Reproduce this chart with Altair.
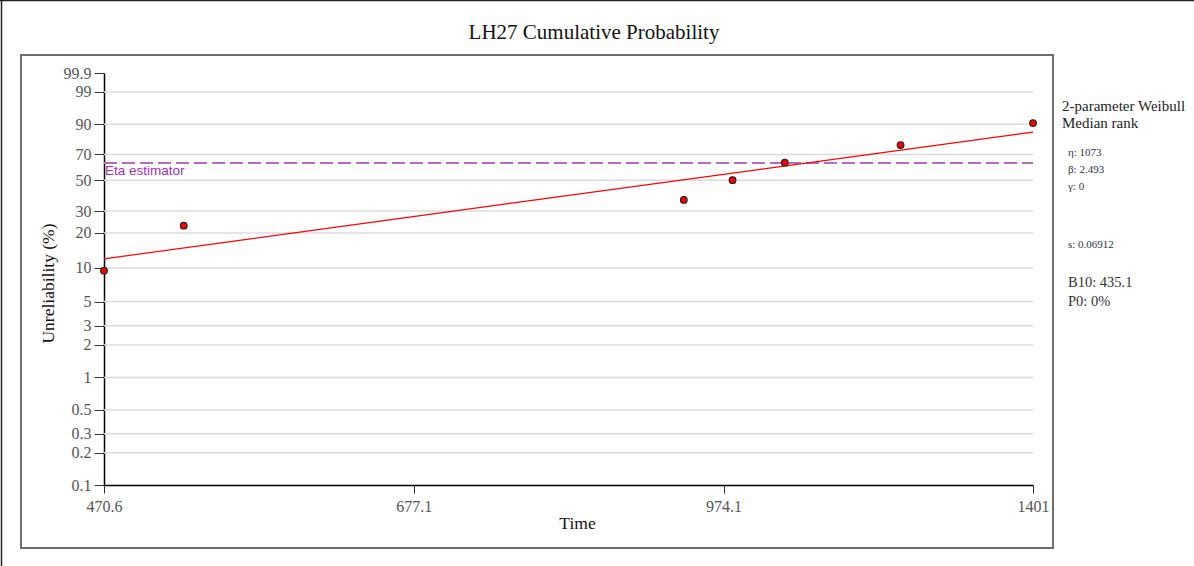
import altair as alt
import numpy as np
import pandas as pd

# ---- data ----
times = [470.6, 516.8, 929.7, 984.5, 1046.8, 1199.2, 1401.0]
unreliability = [9.46, 22.97, 36.49, 50.0, 63.51, 77.03, 90.54]
y_ticks = [0.1, 0.2, 0.3, 0.5, 1, 2, 3, 5, 10, 20, 30, 50, 70, 90, 99, 99.9]
grid_ticks = [0.2, 0.3, 0.5, 1, 2, 3, 5, 10, 20, 30, 50, 70, 90, 99]
x_ticks = [470.6, 677.1, 974.1, 1401]
eta = 1073
beta = 2.493
eta_level = 63.212
info_head = ["2-parameter Weibull", "Median rank"]
info_params = ["\u03b7: 1073", "\u03b2: 2.493", "\u03b3: 0"]
info_s = ["s: 0.06912"]
info_b = ["B10: 435.1", "P0: 0%"]

W, H = 929, 412
SERIF = "Liberation Serif"
SANS = "Liberation Sans"


def wb(p):
    return float(np.log(-np.log(1 - p / 100.0)))


W_EXPR = "log(-log(1 - datum.p/100))"
y_scale = alt.Scale(domain=[wb(y_ticks[0]), wb(y_ticks[-1])], nice=False, zero=False)
x_scale = alt.Scale(type="log", domain=[x_ticks[0], x_ticks[-1]], nice=False)

y_axis = alt.Axis(
    values=[wb(p) for p in y_ticks],
    labelExpr="format(100*(1-exp(-exp(datum.value))), '.3~g')",
    grid=False, domainColor="#000", domainWidth=1.5, tickColor="#333",
    tickSize=10, labelPadding=3, labelFont=SERIF, labelFontSize=16,
    labelColor="#555", labelOverlap=False, labelBound=False,
    title="Unreliability (%)", titleFont=SERIF, titleFontSize=17.5,
    titleFontWeight="normal", titleColor="#111", titleAngle=270,
    titleX=-56, titleY=210, titleAlign="center", titleBaseline="middle",
)
x_axis = alt.Axis(
    values=x_ticks, format=".4~g", grid=False, domainColor="#000",
    domainWidth=1.5, tickColor="#333", tickSize=8, labelPadding=5,
    labelFont=SERIF, labelFontSize=16, labelColor="#555",
    labelOverlap=False, labelFlush=False, labelBound=False,
    title="Time", titleFont=SERIF, titleFontSize=17.5, titleFontWeight="normal",
    titleColor="#111", titleX=473, titleY=38, titleAlign="center",
    titleBaseline="middle",
)

Y = alt.Y("w:Q", scale=y_scale, axis=y_axis)
X = alt.X("t:Q", scale=x_scale, axis=x_axis)

pts_df = pd.DataFrame({"t": times, "p": unreliability})
one = alt.Data(values=[{"k": 1}])

grid = alt.Chart(pd.DataFrame({"p": grid_ticks})).transform_calculate(
    w=W_EXPR
).mark_rule(color="#dcdcdc", strokeWidth=1.5).encode(
    y=Y, x=alt.value(0), x2=alt.value(W),
)

fit = alt.Chart(pd.DataFrame({"t": [x_ticks[0], x_ticks[-1]]})).transform_calculate(
    w=f"{beta} * log(datum.t / {eta})"
).mark_line(color="#ff0000", strokeWidth=1.2).encode(x=X, y=Y)

eta_df = pd.DataFrame({"p": [eta_level], "label": ["Eta estimator"]})
eta_line = alt.Chart(eta_df).transform_calculate(w=W_EXPR).mark_rule(
    color="#b56cc0", strokeWidth=2, strokeDash=[13, 5]
).encode(y=Y, x=alt.value(0), x2=alt.value(W))
eta_text = alt.Chart(eta_df).transform_calculate(w=W_EXPR).mark_text(
    font=SANS, fontSize=13.5, color="#a030b0", align="left",
    baseline="middle", dy=8, dx=1,
).encode(y=Y, x=alt.value(0), text="label:N")

points = alt.Chart(pts_df).transform_calculate(w=W_EXPR).mark_point(
    filled=True, shape="circle", size=44, fill="#ff0000", stroke="#222",
    strokeWidth=1.2, opacity=1,
).encode(x=X, y=Y)

frame = alt.Chart(one).mark_rect(
    fillOpacity=0, stroke="#6e6e6e", strokeWidth=2
).encode(
    x=alt.value(-83), x2=alt.value(949), y=alt.value(-18), y2=alt.value(475)
)
outer_top = alt.Chart(one).mark_rule(color="#222", strokeWidth=1.5).encode(
    x=alt.value(-104), x2=alt.value(1090), y=alt.value(-72.5)
)
outer_left = alt.Chart(one).mark_rule(color="#222", strokeWidth=1.5).encode(
    x=alt.value(-102.5), y=alt.value(-73), y2=alt.value(493)
)

title = alt.Chart(one).mark_text(
    font=SERIF, fontSize=21, color="#111", align="center", baseline="middle"
).encode(x=alt.value(490), y=alt.value(-40),
         text=alt.value("LH27 Cumulative Probability"))


def info(lines, x, y0, step, size, color):
    return alt.Chart(one).mark_text(
        font=SERIF, fontSize=size, color=color, align="left",
        baseline="middle", lineHeight=step,
    ).encode(x=alt.value(x), y=alt.value(y0), text=alt.value(lines))


info_layers = [
    info(info_head, 958, 33, 17, 15, "#222"),
    info(info_params, 964, 80, 17, 11, "#2a3440"),
    info(info_s, 964, 172, 17, 11, "#2a3440"),
    info(info_b, 964, 210, 19, 14.5, "#333"),
]

chart = alt.layer(
    outer_top, outer_left, frame, grid, eta_line, fit, eta_text, points, title,
    *info_layers,
).properties(
    width=W, height=H,
    autosize=alt.AutoSizeParams(type="none"),
    padding={"left": 104, "top": 73, "right": 1194 - 104 - W, "bottom": 566 - 73 - H},
    background="white",
).configure_view(stroke=None)

chart.save("out.html", embed_options={"renderer": "svg", "actions": False})
